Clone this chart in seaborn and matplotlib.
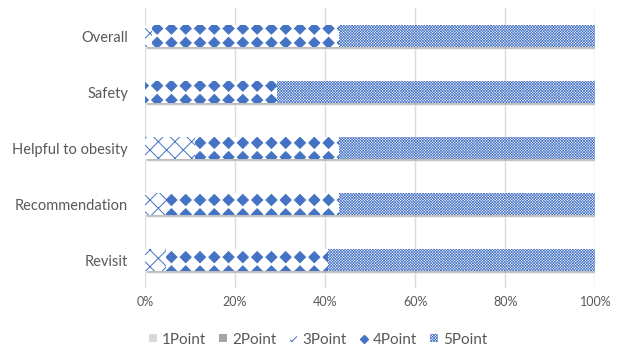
import numpy as np
import pandas as pd
import matplotlib
matplotlib.use('Agg')
import matplotlib.pyplot as plt
import seaborn as sns
from matplotlib import hatch as mhatch
from matplotlib.path import Path
from matplotlib.patches import Patch
from matplotlib.lines import Line2D

# Anteile je Bewertung (in %)
categories = ['Overall', 'Safety', 'Helpful to obesity', 'Recommendation', 'Revisit']
point_labels = ['1Point', '2Point', '3Point', '4Point', '5Point']
p1 = [0.0, 0.0, 0.0, 0.0, 0.0]
p2 = [0.0, 0.0, 0.0, 0.0, 0.0]
p3 = [1.6, 0.0, 11.1, 4.8, 4.8]
p4 = [41.5, 29.3, 32.0, 38.3, 35.9]
p5 = [56.9, 70.7, 56.9, 56.9, 59.3]
x_ticks = [0, 20, 40, 60, 80, 100]

blue = '#4472C4'
text_col = '#595959'


# Excel-artige Muster: Rauten ('O') und feines Schachbrett ('.')
# Schraffur-Kachel ist 72px gross
class GridShapes(mhatch.HatchPatternBase):
    char = 'O'
    per_char = 7
    size = 0.78
    checker = False
    shape = np.array([[0, -1], [1, 0], [0, 1], [-1, 0], [0, -1]], float)

    def __init__(self, hatch, density):
        n = hatch.count(self.char) * self.per_char
        self.n = n
        self.centers = []
        if n > 0:
            if self.checker:
                # auf Pixelraster ausgerichtet, damit es scharf bleibt
                for i in range(n):
                    for j in range(n):
                        if (i + j) % 2 == 0:
                            self.centers.append(((j + 0.5) / n, (i + 0.5) / n))
            else:
                for i in range(n + 1):
                    for j in range(n + 1):
                        self.centers.append((j / n, i / n))
        self.num_vertices = len(self.centers) * len(self.shape)

    def set_vertices_and_codes(self, vertices, codes):
        k = len(self.shape)
        s = self.size / self.n / 2
        for idx, (cx, cy) in enumerate(self.centers):
            vertices[idx * k:(idx + 1) * k] = self.shape * s + (cx, cy)
            codes[idx * k:(idx + 1) * k] = [Path.MOVETO] + [Path.LINETO] * (k - 2) + [Path.CLOSEPOLY]


class Diamonds(GridShapes):
    char = 'O'


class Checker(GridShapes):
    # kleine Quadrate, die Strichbreite der Schraffur macht sie ~1px gross
    char = '.'
    per_char = 72
    size = 0.4
    checker = True
    shape = np.array([[-1, -1], [1, -1], [1, 1], [-1, 1], [-1, -1]], float)


mhatch._hatch_types = [mhatch.HorizontalHatch, mhatch.VerticalHatch,
                       mhatch.NorthEastHatch, mhatch.SouthEastHatch,
                       Diamonds, Checker]

sns.set_theme(style='white')
plt.rcParams['font.family'] = ['Lato', 'DejaVu Sans']
plt.rcParams['hatch.color'] = blue
plt.rcParams['hatch.linewidth'] = 0.7

df = pd.DataFrame({'Kategorie': categories, '1Point': p1, '2Point': p2,
                   '3Point': p3, '4Point': p4, '5Point': p5})
cum = df[point_labels].cumsum(axis=1)

fig, ax = plt.subplots(figsize=(6.24, 3.5), dpi=100)
fig.subplots_adjust(left=0.232, right=0.954, top=0.977, bottom=0.177)

# Schatten unter den Balken
ax.barh(np.arange(len(categories)) + 0.04, cum['5Point'], left=0.2, height=0.4,
        color='#808080', alpha=0.5, zorder=0.8)

fills = {'1Point': ('#d9d9d9', None), '2Point': ('#a6a6a6', None),
         '3Point': ('white', 'xx'), '4Point': ('white', 'O'), '5Point': ('white', '.')}

# gestapelte Balken: von hinten (kumuliert 100%) nach vorne
for lab in point_labels[::-1]:
    fc, h = fills[lab]
    sns.barplot(x=cum[lab], y=df['Kategorie'], orient='h', color=fc, saturation=1,
                hatch=h, edgecolor=blue if h else fc, linewidth=0, width=0.4,
                errorbar=None, ax=ax)

ax.set_xlim(0, 100)
ax.set_xticks(x_ticks)
ax.set_xticklabels([f'{t}%' for t in x_ticks])
ax.set_xlabel('')
ax.set_ylabel('')
ax.grid(axis='x', color='#d9d9d9', linewidth=1)
ax.set_axisbelow(True)
for sp in ax.spines.values():
    sp.set_visible(False)
ax.tick_params(axis='x', length=0, labelsize=9, colors=text_col, pad=6)
ax.tick_params(axis='y', length=0, labelsize=10.5, colors=text_col, pad=12)

handles = []
for l in point_labels:
    fc, h = fills[l]
    if h == 'O':
        handles.append(Line2D([], [], marker='D', color=blue, linestyle='None', markersize=4.5))
    else:
        handles.append(Patch(facecolor=fc, edgecolor=blue if h else fc, hatch=h, linewidth=0))
fig.legend(handles, point_labels, loc='center', bbox_to_anchor=(0.51, 0.03), ncol=5,
           frameon=False, fontsize=11, labelcolor=text_col, handlelength=0.5,
           handleheight=0.5, handletextpad=0.35, columnspacing=0.85)

plt.savefig('out.png', dpi=100)
